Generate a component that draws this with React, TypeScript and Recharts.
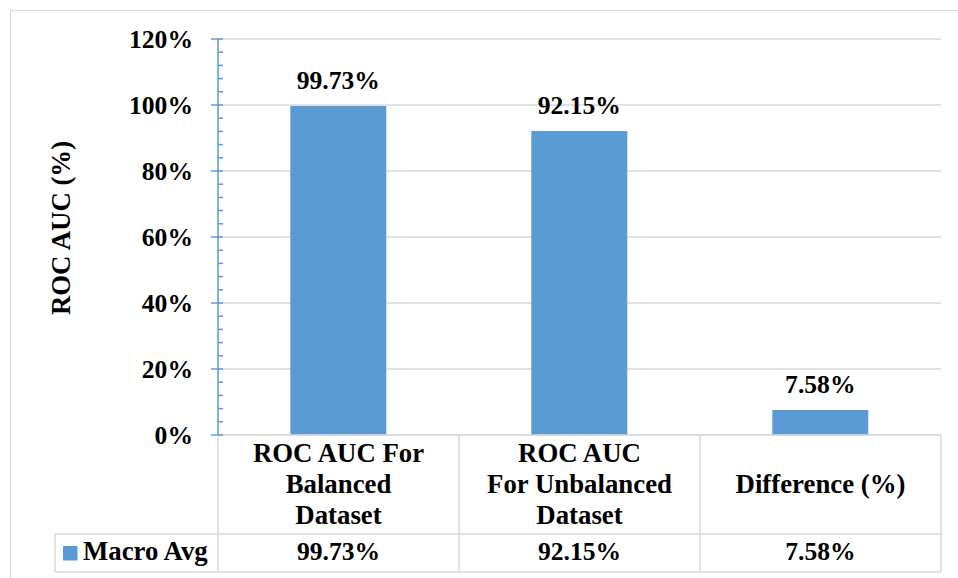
import React from 'react';
import { BarChart, Bar, XAxis, YAxis, CartesianGrid, LabelList } from 'recharts';

// Category labels, already split into the lines shown under each bar
const categories: string[][] = [
  ['ROC AUC For', 'Balanced', 'Dataset'],
  ['ROC AUC', 'For Unbalanced', 'Dataset'],
  ['Difference (%)'],
];
// ROC AUC values (in %) for the single series
const macroAvg: number[] = [99.73, 92.15, 7.58];
const seriesName = 'Macro Avg';
const yTicks: number[] = [0, 20, 40, 60, 80, 100, 120];
const Y_MAX = 120;
const MINOR_STEP = 4;

const data = categories.map((lines, i) => ({
  name: lines.join(' '),
  lines,
  value: macroAvg[i],
}));

// Layout
const W = 958;
const H = 578;
const MARGIN = { top: 39, right: 17, left: 0, bottom: 0 };
const Y_AXIS_W = 218;
const X_AXIS_H = 143;
const PLOT_H = H - MARGIN.top - X_AXIS_H;
const CELL_W = (W - Y_AXIS_W - MARGIN.right) / categories.length;
const LEGEND_LEFT = 55;
const MAJOR_TICK = 7;
const MINOR_TICK = 5;
const TICK_GAP = 18;

// Styles
const FONT = '"Liberation Serif", "Times New Roman", Times, serif';
const BLUE = '#5B9BD5';
const GRID = '#D9D9D9';
const numStyle = { fontFamily: FONT, fontSize: 25.6, fontWeight: 700, fill: '#000' };
const wordStyle = { ...numStyle, fontSize: 26.8 };

const fmt = (v: number) => `${v.toFixed(2)}%`;

// Y tick: percentage label plus the inward minor tick marks above it
const YTick = (props: any) => {
  const { x, y, payload } = props;
  const v = Number(payload.value);
  const axisX = x + MAJOR_TICK + TICK_GAP;
  const stepPx = (PLOT_H / Y_MAX) * MINOR_STEP;
  const minors = v < Y_MAX ? [0, 1, 2, 3, 4] : [0];
  return (
    <g>
      {minors.map((k) => (
        <line
          key={k}
          x1={axisX}
          x2={axisX + MINOR_TICK}
          y1={y - k * stepPx}
          y2={y - k * stepPx}
          stroke={BLUE}
          strokeWidth={1.5}
        />
      ))}
      <text x={x} y={y} dy="0.355em" textAnchor="end" style={numStyle}>
        {`${v}%`}
      </text>
    </g>
  );
};

// Each x tick draws its column of the data table underneath the plot
const TableTick = (props: any) => {
  const { x, y, payload } = props;
  const i: number = payload?.index ?? props.index ?? 0;
  const row = data[i];
  const left = x - CELL_W / 2;
  const right = x + CELL_W / 2;
  const headMid = y + 58;
  const rowTop = y + 99;
  const rowBottom = y + 137;
  const valueBase = y + 125;
  const lineH = 31;
  return (
    <g>
      <line x1={right} y1={y} x2={right} y2={rowBottom} stroke={GRID} strokeWidth={1.5} />
      <line x1={left} y1={rowTop} x2={right} y2={rowTop} stroke={GRID} strokeWidth={1.5} />
      <line x1={left} y1={rowBottom} x2={right} y2={rowBottom} stroke={GRID} strokeWidth={1.5} />
      {i === 0 && (
        <g>
          <line x1={left} y1={y} x2={left} y2={rowBottom} stroke={GRID} strokeWidth={1.5} />
          <line x1={LEGEND_LEFT} y1={rowTop} x2={left} y2={rowTop} stroke={GRID} strokeWidth={1.5} />
          <line x1={LEGEND_LEFT} y1={rowBottom} x2={left} y2={rowBottom} stroke={GRID} strokeWidth={1.5} />
          <line x1={LEGEND_LEFT} y1={rowTop} x2={LEGEND_LEFT} y2={rowBottom} stroke={GRID} strokeWidth={1.5} />
          <rect x={LEGEND_LEFT + 8} y={rowTop + 12} width={14.5} height={14.5} fill={BLUE} />
          <text x={LEGEND_LEFT + 28} y={valueBase} style={wordStyle}>
            {seriesName}
          </text>
        </g>
      )}
      {row.lines.map((t, k) => (
        <text
          key={k}
          x={x}
          y={headMid + (k - (row.lines.length - 1) / 2) * lineH}
          textAnchor="middle"
          style={wordStyle}
        >
          {t}
        </text>
      ))}
      <text x={x} y={valueBase} textAnchor="middle" style={numStyle}>
        {fmt(row.value)}
      </text>
    </g>
  );
};

const AxisTitle = () => (
  <text
    x={69.5}
    y={228}
    transform="rotate(-90 69.5 228)"
    textAnchor="middle"
    style={wordStyle}
  >
    ROC AUC (%)
  </text>
);

const BarValue = (p: any) => (
  <text x={p.x + p.width / 2} y={p.y - 17} textAnchor="middle" style={numStyle}>
    {fmt(Number(p.value))}
  </text>
);

export default function App() {
  return (
    <div
      style={{
        position: 'absolute',
        left: 0,
        top: 0,
        width: W,
        height: H,
        background: '#fff',
        overflow: 'hidden',
      }}
    >
      <div
        style={{
          position: 'absolute',
          left: 10,
          top: 10,
          width: W,
          height: H,
          borderTop: `1.5px solid ${GRID}`,
          borderLeft: `1.5px solid ${GRID}`,
        }}
      />
      <div style={{ position: 'absolute', left: 0, top: 0 }}>
        <BarChart width={W} height={H} data={data} margin={MARGIN} barCategoryGap="30%">
          <CartesianGrid vertical={false} stroke={GRID} strokeWidth={1.5} />
          <XAxis
            dataKey="name"
            type="category"
            height={X_AXIS_H}
            interval={0}
            tickSize={0}
            tickMargin={0}
            tickLine={false}
            axisLine={{ stroke: GRID, strokeWidth: 1.5 }}
            tick={<TableTick />}
          />
          <YAxis
            type="number"
            domain={[0, Y_MAX]}
            ticks={yTicks}
            interval={0}
            width={Y_AXIS_W}
            tick={<YTick />}
            axisLine={{ stroke: BLUE, strokeWidth: 1.5 }}
            tickLine={{ stroke: BLUE, strokeWidth: 1.5 }}
            tickSize={MAJOR_TICK}
            tickMargin={TICK_GAP}
            label={<AxisTitle />}
          />
          <Bar dataKey="value" fill={BLUE} isAnimationActive={false}>
            <LabelList dataKey="value" content={<BarValue />} />
          </Bar>
        </BarChart>
      </div>
    </div>
  );
}
